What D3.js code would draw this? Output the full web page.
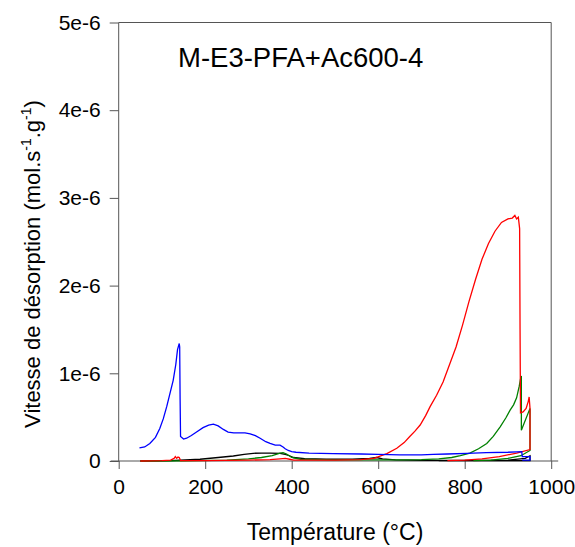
<!DOCTYPE html>
<html><head><meta charset="utf-8">
<script src="https://cdn.jsdelivr.net/npm/d3@7"></script>
<style>body{margin:0;background:#fff}svg{display:block}text{font-family:"Liberation Sans",Arial,sans-serif;fill:#000}</style>
</head><body><svg id="c" width="575" height="547"></svg>
<script>
// values in units of 1e-6 mol.s-1.g-1, temperature in °C
const xTicks = [0, 200, 400, 600, 800, 1000];
const yTicks = [0, 1, 2, 3, 4, 5];
const yTickLabels = ["0", "1e-6", "2e-6", "3e-6", "4e-6", "5e-6"];
const title = "M-E3-PFA+Ac600-4";

const blueSeries = [[48,0.15],[60,0.16],[72,0.2],[85,0.27],[95,0.37],[103,0.48],[111,0.62],[118,0.76],[126,0.92],[132,1.1],[136,1.27],[140,1.34],[141,1.3],[142,0.7],[143,0.28],[150,0.25],[157,0.26],[168,0.29],[180,0.33],[195,0.38],[208,0.41],[219,0.42],[230,0.4],[242,0.36],[253,0.33],[266,0.32],[280,0.32],[292,0.32],[304,0.31],[316,0.29],[327,0.26],[340,0.22],[350,0.2],[362,0.18],[373,0.18],[380,0.16],[385,0.14],[392,0.12],[400,0.106],[410,0.1],[440,0.09],[496,0.085],[560,0.08],[600,0.075],[650,0.07],[700,0.07],[727,0.075],[760,0.08],[805,0.088],[850,0.095],[900,0.1],[920,0.105],[932,0.106],[933,0.05],[951,0.05],[951,0.01],[933,0.01]];

const redSeries = [[50,0.0],[100,0.005],[120,0.01],[128,0.03],[131,0.05],[134,0.03],[137,0.045],[140,0.04],[143,0.005],[200,0.005],[300,0.01],[350,0.015],[373,0.025],[385,0.03],[395,0.02],[405,0.01],[500,0.01],[560,0.015],[590,0.03],[620,0.085],[643,0.145],[660,0.21],[673,0.28],[685,0.34],[697,0.41],[710,0.52],[720,0.62],[735,0.75],[750,0.9],[765,1.1],[780,1.3],[795,1.55],[810,1.82],[825,2.07],[840,2.3],[855,2.48],[870,2.62],[885,2.72],[900,2.76],[910,2.77],[916,2.8],[920,2.76],[924,2.78],[927,2.65],[928,1.5],[929,0.55],[935,0.56],[942,0.6],[947,0.68],[949,0.73],[951,0.6],[951,0.13],[920,0.09],[880,0.05],[840,0.025],[800,0.01],[760,0.005]];

const greenSeries = [[50,0.0],[150,0.002],[250,0.01],[300,0.025],[330,0.04],[355,0.06],[373,0.09],[380,0.095],[388,0.08],[400,0.04],[420,0.02],[500,0.012],[600,0.012],[650,0.012],[700,0.015],[740,0.025],[770,0.04],[790,0.06],[812,0.09],[832,0.14],[851,0.2],[866,0.28],[882,0.39],[895,0.49],[905,0.58],[913,0.64],[920,0.72],[926,0.85],[930,0.96],[931,0.97],[931,0.35],[951,0.6],[951,0.12],[930,0.06],[900,0.03],[860,0.01],[820,0.005]];

const blackSeries = [[50,0.0],[120,0.005],[188,0.02],[230,0.04],[265,0.057],[290,0.075],[311,0.088],[330,0.09],[350,0.09],[373,0.088],[385,0.075],[395,0.06],[404,0.04],[430,0.028],[480,0.02],[540,0.022],[580,0.03],[596,0.04],[610,0.025],[640,0.012],[700,0.008],[800,0.008],[900,0.01],[940,0.03],[951,0.06],[951,0.005],[740,0.005]];

const svg = d3.select("#c");
const x = d3.scaleLinear().domain([0, 1000]).range([118.7, 551.2]);
const y = d3.scaleLinear().domain([0, 5]).range([461, 22.5]);

// frame
svg.append("line").attr("x1", x(0)).attr("x2", x(1000)).attr("y1", y(5)).attr("y2", y(5)).attr("stroke", "#555");
svg.append("line").attr("x1", x(1000)).attr("x2", x(1000)).attr("y1", y(5)).attr("y2", y(0)).attr("stroke", "#555");

// axes
const xAxis = d3.axisBottom(x).tickValues(xTicks).tickSize(8).tickPadding(10).tickFormat(d3.format("d"));
const yAxis = d3.axisLeft(y).tickValues(yTicks).tickSize(9).tickPadding(9).tickFormat((d, i) => yTickLabels[i]);
const gx = svg.append("g").attr("transform", `translate(0,${y(0)})`).call(xAxis);
const gy = svg.append("g").attr("transform", `translate(${x(0)},0)`).call(yAxis);
[gx, gy].forEach(a => {
  a.select(".domain").remove();
  a.selectAll(".tick line").attr("stroke", "#555");
  a.selectAll(".tick text").style("font-size", "21px").style("font-family", "Liberation Sans, Arial, sans-serif").attr("fill", "#000");
});
svg.append("line").attr("x1", x(0) - 8).attr("x2", x(1000) + 7).attr("y1", y(0)).attr("y2", y(0)).attr("stroke", "#555");
svg.append("line").attr("x1", x(0)).attr("x2", x(0)).attr("y1", y(5)).attr("y2", y(0) + 1).attr("stroke", "#555");

// series
const line = d3.line().x(d => x(d[0])).y(d => y(d[1]));
const series = [
  {data: blackSeries, color: "#000000"},
  {data: greenSeries, color: "#008000"},
  {data: redSeries, color: "#ff0000"},
  {data: blueSeries, color: "#0000ff"}
];
svg.append("g").selectAll("path").data(series).join("path")
  .attr("d", s => line(s.data)).attr("fill", "none").attr("stroke", s => s.color).attr("stroke-width", 1.3);

// title
svg.append("text").attr("x", 178).attr("y", 67).style("font-size", "27.5px").text(title);

// axis titles
svg.append("text").attr("x", 335).attr("y", 540).attr("text-anchor", "middle").style("font-size", "23px").text("Température (°C)");
const yl = svg.append("text").attr("transform", "translate(40,264) rotate(-90)").attr("text-anchor", "middle").style("font-size", "22px");
yl.append("tspan").text("Vitesse de désorption (mol.s");
yl.append("tspan").attr("dy", -9).style("font-size", "14px").text("-1");
yl.append("tspan").attr("dy", 9).text(".g");
yl.append("tspan").attr("dy", -9).style("font-size", "14px").text("-1");
yl.append("tspan").attr("dy", 9).text(")");
</script></body></html>
